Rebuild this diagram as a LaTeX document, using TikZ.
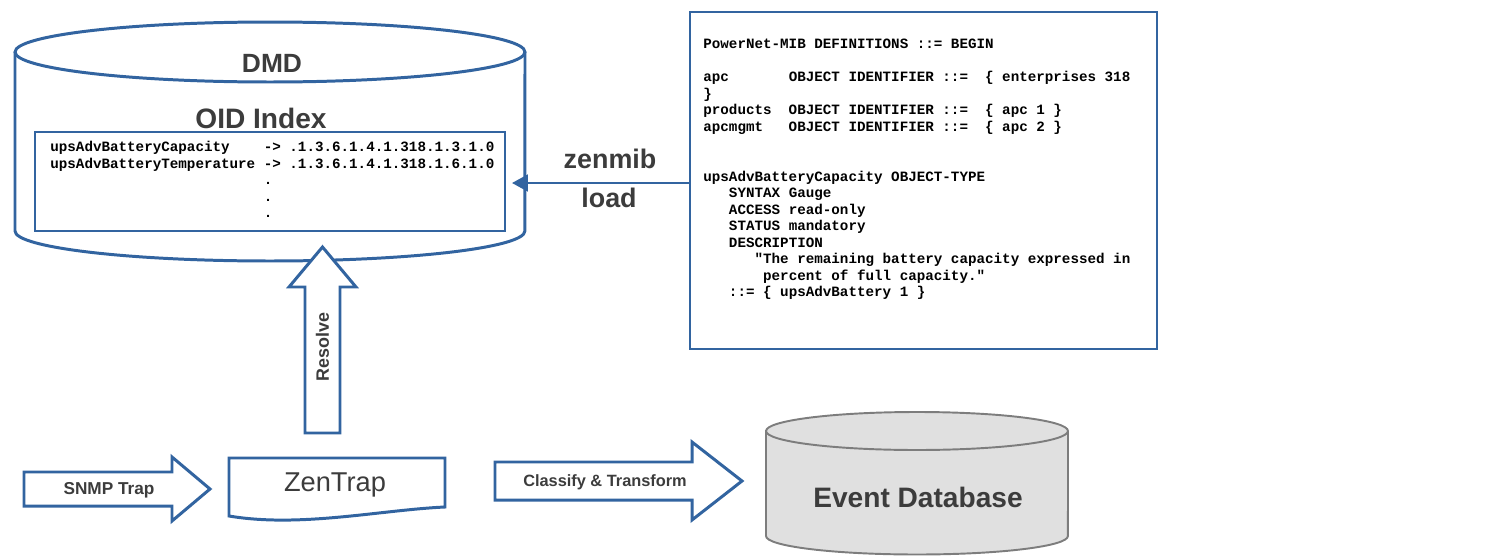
\documentclass[tikz,border=0pt]{standalone}
\usepackage{fontspec}
\setmainfont{Liberation Sans}
\setmonofont{Liberation Mono}
\usepackage{tikz}
\usetikzlibrary{arrows.meta}
\usepackage{xcolor}

\definecolor{zblue}{RGB}{50,100,160}
\definecolor{labelgray}{RGB}{60,60,60}
\definecolor{dbfill}{RGB}{224,224,224}
\definecolor{dbedge}{RGB}{125,125,125}

\begin{document}
\begin{tikzpicture}[x=0.02cm, y=0.02cm,
    dbline/.style={draw=zblue, line width=1.7pt},
    blockarrow/.style={draw=zblue, line width=1.7pt, fill=white},
    lbl/.style={font=\bfseries\fontsize{#1}{#1}\selectfont, text=labelgray, inner sep=0pt},
    lbl/.default=15.3,
    code/.style={font=\ttfamily\bfseries\fontsize{8.1}{9.4}\selectfont, inner sep=0pt, anchor=north west}]

        % 画像の大きさ
        \useasboundingbox (0,0) rectangle (1498,556);

        % DMD (円柱)
        \draw[dbline] (15,504) -- (15,325)
          arc[start angle=180, end angle=360, x radius=5.1cm, y radius=0.6cm] -- (525,504);
        \draw[dbline] (270,504) ellipse [x radius=5.1cm, y radius=0.6cm];
        \node[lbl=15] (dmd) at (272,493) {DMD};
        \node[lbl=16] (oidindex) at (261,438) {OID Index};

        % OID 一覧
        \draw[dbline, line width=1.5pt] (35,325) rectangle (505,424);
        \node[code] (oidlist) at (50,416) {%
          \begin{tabular}{@{}l@{~}l@{~}l@{}}
          upsAdvBatteryCapacity    & -> & .1.3.6.1.4.1.318.1.3.1.0\\
          upsAdvBatteryTemperature & -> & .1.3.6.1.4.1.318.1.6.1.0\\
                                   & .  & \\
                                   & .  & \\
                                   & .  &
          \end{tabular}};

        % MIB 定義
        \node[draw=zblue, line width=1.4pt, minimum width=9.34cm, minimum height=6.74cm,
          inner sep=0pt, outer sep=0pt, anchor=north west] (mib) at (690,544) {};
        \node[code] (mibsrc) at (703,519) {%
          \begin{tabular}{@{}l@{}}
          PowerNet-MIB DEFINITIONS ::= BEGIN\\
          ~\\
          apc~~~~~~~OBJECT IDENTIFIER ::=~~\{ enterprises 318\\
          \}\\
          products~~OBJECT IDENTIFIER ::=~~\{ apc 1 \}\\
          apcmgmt~~~OBJECT IDENTIFIER ::=~~\{ apc 2 \}\\
          ~\\
          ~\\
          upsAdvBatteryCapacity OBJECT-TYPE\\
          ~~~SYNTAX Gauge\\
          ~~~ACCESS read-only\\
          ~~~STATUS mandatory\\
          ~~~DESCRIPTION\\
          ~~~~~~"The remaining battery capacity expressed in\\
          ~~~~~~~percent of full capacity."\\
          ~~~::= \{ upsAdvBattery 1 \}
          \end{tabular}};

        % zenmib load
        \coordinate (dmdin) at (512,373);
        \draw[zblue, line width=1.4pt, -{Triangle[length=9pt, width=9.5pt]}] (mib.west |- dmdin) -- (dmdin);
        \node[lbl] (zenmib) at (610,397) {zenmib};
        \node[lbl] (load) at (609,358) {load};

        % Resolve
        \draw[blockarrow] (305,123) -- (305,269) -- (289,269) -- (322.5,309)
          -- (356,269) -- (340,269) -- (340,123) -- cycle;
        \node[lbl=10.2, rotate=90] (resolve) at (322.5,209) {Resolve};

        % SNMP Trap
        \draw[blockarrow] (24,50) -- (24,84) -- (172,84) -- (172,99) -- (210,67)
          -- (172,35) -- (172,50) -- cycle;
        \node[lbl=9.8] (snmp) at (109,66) {SNMP Trap};

        % ZenTrap
        \draw[blockarrow] (229,40) -- (229,98) -- (445,98) -- (445,49)
          .. controls (380,46) and (300,28) .. (229,40) -- cycle;
        \node[lbl, font=\fontsize{15.5}{15.5}\selectfont] (zentrap) at (335,71) {ZenTrap};

        % Classify & Transform
        \draw[blockarrow] (495,56) -- (495,94) -- (692,94) -- (692,114) -- (742,75)
          -- (692,36) -- (692,56) -- cycle;
        \node[lbl=9.3] (classify) at (605,74) {Classify \& Transform};

        % Event Database (円柱)
        \filldraw[fill=dbfill, draw=dbedge, line width=1.1pt] (766,125) -- (766,20)
          arc[start angle=180, end angle=360, x radius=3.02cm, y radius=0.37cm] -- (1068,125)
          arc[start angle=0, end angle=180, x radius=3.02cm, y radius=0.38cm] -- cycle;
        \draw[dbedge, line width=1.1pt] (766,125)
          arc[start angle=180, end angle=360, x radius=3.02cm, y radius=0.38cm];
        \node[lbl=16] (eventdb) at (918,59) {Event Database};
      \end{tikzpicture}
\end{document}
